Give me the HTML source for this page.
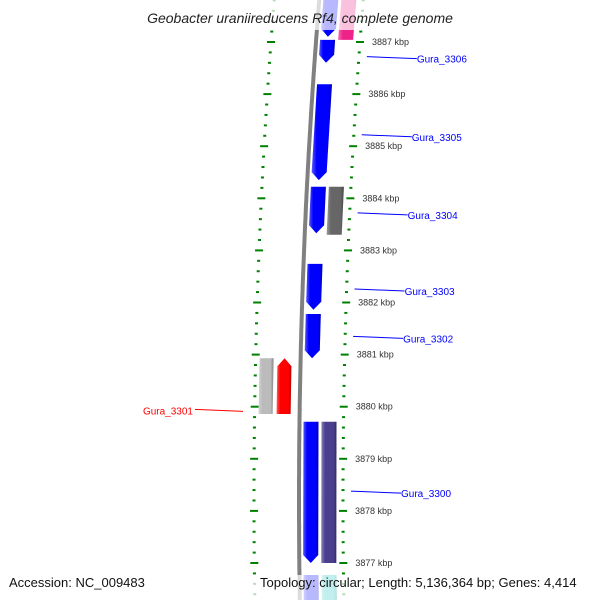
<!DOCTYPE html>
<html><head><meta charset="utf-8"><style>
html,body{margin:0;padding:0;background:#fff;}
svg{display:block;font-family:"Liberation Sans",sans-serif;}
</style></head><body>
<svg id="chart" width="600" height="600" viewBox="0 0 600 600" xmlns="http://www.w3.org/2000/svg">
<defs>
<linearGradient id="shade" x1="0" x2="1" y1="0" y2="0">
<stop offset="0" stop-color="#fff" stop-opacity="0.35"/>
<stop offset="0.25" stop-color="#fff" stop-opacity="0"/>
<stop offset="0.8" stop-color="#000" stop-opacity="0"/>
<stop offset="1" stop-color="#000" stop-opacity="0.3"/>
</linearGradient>
</defs>
<g id="ticks"></g>
<g id="genes"></g>
<g id="labels"></g>
<rect x="0" y="0" width="600" height="30" fill="#fff" opacity="0.72"/>
<rect x="0" y="575" width="600" height="25" fill="#fff" opacity="0.72"/>
<text x="300" y="23" text-anchor="middle" font-size="14" font-style="italic" fill="#222">Geobacter uraniireducens Rf4, complete genome</text>
<text x="9" y="587" font-size="13" fill="#111">Accession: NC_009483</text>
<text x="260" y="587" font-size="13" fill="#111">Topology: circular; Length: 5,136,364 bp; Genes: 4,414</text>
</svg>
<script>
const tickKbp = [3887,3886,3885,3884,3883,3882,3881,3880,3879,3878,3877];
const geneNames = ["Gura_3306","Gura_3305","Gura_3304","Gura_3303","Gura_3302","Gura_3300","Gura_3301"];
const geneLabelKbp = [3886.70,3885.20,3883.70,3882.24,3881.33,3878.36,3879.93];
const geneStart = [3888.0,3888.0,3887.04,3886.19,3884.22,3884.22,3882.74,3881.78,3880.93,3880.93,3879.71,3879.71,3876.77,3876.77];
const geneEnd   = [3887.10,3887.04,3886.60,3884.35,3883.33,3883.30,3881.86,3880.93,3879.86,3879.86,3877.0,3877.0,3876.1,3876.1];
const geneLane  = [0,1,0,0,0,1,0,0,2,3,0,1,0,1];
const geneStrand= [-1,0,-1,-1,-1,0,-1,-1,1,0,-1,0,-1,0];
const geneColor = ["#0000ff","#ee2288","#0000ff","#0000ff","#0000ff","#666666","#0000ff","#0000ff","#ff0000","#bbbbbb","#0000ff","#4a3f8f","#0000ff","#20c0c0"];

const NS="http://www.w3.org/2000/svg";
function yOf(k){return 42+(3887-k)*52.1;}
function off(y){return 8.1e-5*(y-500)*(y-500)-17;}
const laneX=[320,338,293,275];
const laneW=[15,15,14,14];
function mk(tag,attrs,parent){const e=document.createElementNS(NS,tag);for(const a in attrs)e.setAttribute(a,attrs[a]);parent.appendChild(e);return e;}

const tg=document.getElementById('ticks');
// backbone
let d="";for(let y=-5;y<=605;y+=5){d+=(y===-5?"M":"L")+(313+off(y)+3).toFixed(1)+" "+y;}
const bb=mk('path',{d:d,stroke:"#808080","stroke-width":4,fill:"none"},tg);


// ticks every 0.2 kbp
for(let i=-5;i<=60;i++){
  const k=3888-i*0.2; const y=yOf(k); if(y<-5||y>605)continue;
  const major=Math.abs(k-Math.round(k))<0.01;
  const len=major?8:3;
  const xr=360+off(y), xl=271+off(y);
  const t1=mk('line',{x1:xr-len/2,x2:xr+len/2,y1:y,y2:y,stroke:"#008000","stroke-width":2},tg);
  
  
  const t2=mk('line',{x1:xl-len/2,x2:xl+len/2,y1:y,y2:y,stroke:"#008000","stroke-width":2},tg);
  
  
}
tickKbp.forEach(k=>{
  const y=yOf(k);
  const t=mk('text',{x:372+off(y),y:y+3,"font-size":9,fill:"#333"},tg);
  t.textContent=k+" kbp";
  
  
});

const gg=document.getElementById('genes');
for(let i=0;i<geneStart.length;i++){
  const y1=yOf(geneStart[i]), y2=yOf(geneEnd[i]);
  const L=laneX[geneLane[i]], W=laneW[geneLane[i]];
  const xa=y=>L+off(y);
  let pts;
  const ah=8;
  if(geneStrand[i]<0){
    const yb=y2-ah;
    pts=[[xa(y1),y1],[xa(y1)+W,y1],[xa(yb)+W,yb],[xa(y2)+W/2,y2],[xa(yb),yb]];
  }else if(geneStrand[i]>0){
    const yt=y1+ah;
    pts=[[xa(y1)+W/2,y1],[xa(yt)+W,yt],[xa(y2)+W,y2],[xa(y2),y2],[xa(yt),yt]];
  }else{
    pts=[[xa(y1),y1],[xa(y1)+W,y1],[xa(y2)+W,y2],[xa(y2),y2]];
  }
  const p=pts.map(q=>q[0].toFixed(1)+","+q[1].toFixed(1)).join(" ");
  const g=mk('polygon',{points:p,fill:geneColor[i]},gg);
  
  
  const s=mk('polygon',{points:p,fill:"url(#shade)"},gg);
  
  
}

const lg=document.getElementById('labels');
geneNames.forEach((n,i)=>{
  const y=yOf(geneLabelKbp[i]);
  const red=n==="Gura_3301";
  if(red){
    const l=mk('line',{x1:195,x2:243,y1:y-1,y2:y+1,stroke:"#ff0000","stroke-width":1},lg);
    
    
    const t=mk('text',{x:193,y:y+4,"text-anchor":"end","font-size":10,fill:"#ff0000"},lg);
    t.textContent=n;
    
    
  }else{
    const x0=368+off(y);
    const l=mk('line',{x1:x0,x2:x0+50,y1:y-1,y2:y+1,stroke:"#0000ff","stroke-width":1},lg);
    
    
    const t=mk('text',{x:x0+50,y:y+5,"font-size":10,fill:"#0000ff"},lg);
    t.textContent=n;
    
    
  }
});
</script>
</body></html>
